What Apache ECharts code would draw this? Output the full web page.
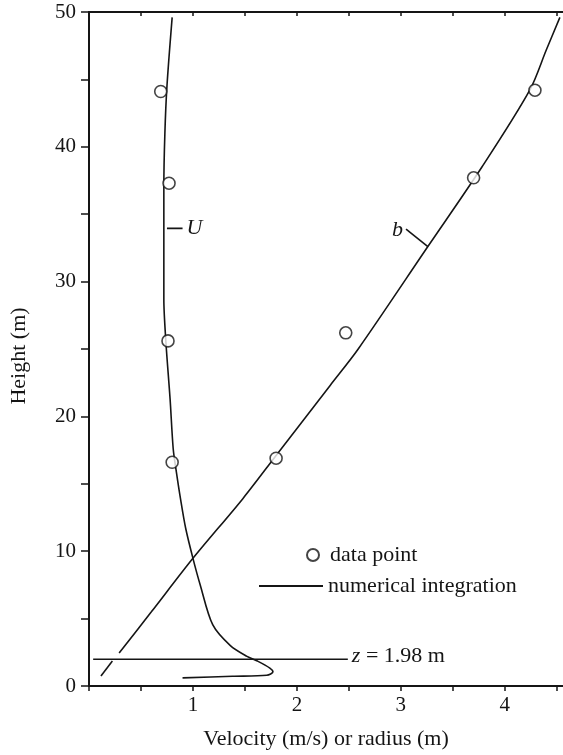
<!DOCTYPE html>
<html>
<head>
<meta charset="utf-8">
<script src="https://cdn.jsdelivr.net/npm/echarts@6/dist/echarts.min.js"></script>
<style>
  html, body { margin: 0; padding: 0; background: #fff; }
  #chart { width: 563px; height: 755px; }
</style>
</head>
<body>
<div id="chart"></div>
<script>
// Tick positions and labelled ticks
const xTicks = [0, 0.5, 1, 1.5, 2, 2.5, 3, 3.5, 4, 4.5];
const xTickLabels = [1, 2, 3, 4];
const yTicks = [0, 5, 10, 15, 20, 25, 30, 35, 40, 45, 50];
const yTickLabels = [0, 10, 20, 30, 40, 50];

// Measured data points: velocity U and radius b against height
const uPointHeight = [44.1, 37.3, 25.6, 16.6];
const uPointVelocity = [0.69, 0.77, 0.76, 0.80];
const bPointHeight = [44.2, 37.7, 26.2, 16.9];
const bPointRadius = [4.29, 3.70, 2.47, 1.80];

// Numerical integration: velocity U
const uCurveHeight = [49.6, 44.5, 41.0, 37.0, 33.9, 28.7, 25.5, 21.3, 17.6, 15.9, 13.9, 11.7, 9.47, 7.5, 4.55, 3.0, 2.2, 1.85, 1.33, 1.05, 0.8, 0.72, 0.6];
const uCurveVelocity = [0.80, 0.75, 0.73, 0.72, 0.72, 0.72, 0.74, 0.78, 0.81, 0.84, 0.88, 0.93, 1.00, 1.07, 1.19, 1.36, 1.52, 1.62, 1.74, 1.77, 1.71, 1.38, 0.90];

// Numerical integration: radius b (short piece below the z line, then the rest)
const bLowHeight = [0.74, 1.85];
const bLowRadius = [0.115, 0.225];
const bCurveHeight = [2.45, 5.5, 9.47, 13.9, 17.1, 22.3, 25.0, 32.6, 38.5, 44.2, 47.2, 49.6];
const bCurveRadius = [0.29, 0.60, 1.00, 1.48, 1.80, 2.32, 2.59, 3.26, 3.78, 4.24, 4.40, 4.53];

// Reference level z = 1.98 m
const zHeight = 1.98;
const zSpan = [0.04, 2.49];

// Curve labels with their leader strokes
const uLeaderX = [0.75, 0.90];
const uLeaderY = [33.95, 33.95];
const bLeaderX = [3.26, 3.05];
const bLeaderY = [32.6, 33.9];

const zip = (xs, ys) => xs.map((x, i) => [x, ys[i]]);

const ink = '#151515';
const serif = 'Liberation Serif';
const lineW = 1.6;

const curveStyle = { color: ink, width: lineW };

const chart = echarts.init(document.getElementById('chart'), null, { renderer: 'canvas' });

chart.setOption({
  backgroundColor: '#fff',
  animation: false,
  color: [ink],
  textStyle: { fontFamily: serif, color: ink },
  grid: { left: 89, right: 0, top: 12, bottom: 67 },
  legend: [
    {
      data: ['data point'],
      left: 306, top: 544, padding: 0,
      itemWidth: 24, itemHeight: 12,
      selectedMode: false,
      textStyle: { fontFamily: serif, fontSize: 22, color: ink }
    },
    {
      data: [{ name: 'numerical integration', icon: 'rect' }],
      left: 259, top: 575, padding: 0,
      itemWidth: 64, itemHeight: 2,
      itemStyle: { color: ink, borderWidth: 0 },
      selectedMode: false,
      textStyle: { fontFamily: serif, fontSize: 22, color: ink }
    }
  ],
  xAxis: [
    {
      type: 'value', position: 'bottom', min: 0, max: 4.56,
      name: 'Velocity (m/s) or radius (m)',
      nameLocation: 'middle', nameGap: 42,
      nameTextStyle: { fontFamily: serif, fontSize: 22, color: ink },
      axisLine: { onZero: false, lineStyle: { color: ink, width: 2 } },
      axisTick: { show: true, customValues: xTicks, length: 5, lineStyle: { color: ink, width: 1.5 } },
      axisLabel: { customValues: xTickLabels, fontFamily: serif, fontSize: 21, color: ink, margin: 9 },
      splitLine: { show: false }
    },
    {
      type: 'value', position: 'top', min: 0, max: 4.56,
      axisLine: { onZero: false, lineStyle: { color: ink, width: 2 } },
      axisTick: { show: true, inside: true, customValues: xTicks, length: 4, lineStyle: { color: ink, width: 1.5 } },
      axisLabel: { show: false },
      splitLine: { show: false }
    }
  ],
  yAxis: [
    {
      type: 'value', position: 'left', min: 0, max: 50,
      name: 'Height (m)',
      nameLocation: 'middle', nameGap: 59,
      nameTextStyle: { fontFamily: serif, fontSize: 22, color: ink, padding: [0, 14, 0, 0] },
      axisLine: { show: true, onZero: false, lineStyle: { color: ink, width: 2 } },
      axisTick: { show: true, customValues: yTicks, length: 8, lineStyle: { color: ink, width: 1.5 } },
      axisLabel: { customValues: yTickLabels, fontFamily: serif, fontSize: 21, color: ink, margin: 13 },
      splitLine: { show: false }
    },
    {
      type: 'value', position: 'right', min: 0, max: 50,
      axisLine: { show: false },
      axisTick: { show: true, inside: true, customValues: yTicks, length: 5, lineStyle: { color: ink, width: 1.5 } },
      axisLabel: { show: false },
      splitLine: { show: false }
    }
  ],
  series: [
    {
      name: 'numerical integration', type: 'line',
      data: zip(uCurveVelocity, uCurveHeight),
      symbol: 'none', smooth: 0.3, lineStyle: curveStyle, itemStyle: { color: ink }, z: 2
    },
    {
      name: 'numerical integration', type: 'line',
      data: zip(bLowRadius, bLowHeight),
      symbol: 'none', lineStyle: curveStyle, itemStyle: { color: ink }, z: 2
    },
    {
      name: 'numerical integration', type: 'line',
      data: zip(bCurveRadius, bCurveHeight),
      symbol: 'none', smooth: 0.3, lineStyle: curveStyle, itemStyle: { color: ink }, z: 2
    },
    {
      name: 'z level', type: 'line',
      data: zip(zSpan, [zHeight, zHeight]),
      symbol: 'none', lineStyle: curveStyle, z: 2,
      endLabel: {
        show: true, distance: 4, offset: [0, -3],
        formatter: () => '{i|z} = ' + zHeight.toFixed(2) + ' m',
        fontFamily: serif, fontSize: 22, color: ink,
        rich: { i: { fontFamily: serif, fontSize: 22, fontStyle: 'italic', color: ink } }
      }
    },
    {
      name: 'U leader', type: 'line',
      data: zip(uLeaderX, uLeaderY),
      symbol: 'none', lineStyle: curveStyle, z: 2,
      endLabel: {
        show: true, distance: 4, formatter: 'U',
        fontFamily: serif, fontSize: 22, fontStyle: 'italic', color: ink
      }
    },
    {
      name: 'b leader', type: 'line',
      data: zip(bLeaderX, bLeaderY),
      symbol: 'none', lineStyle: curveStyle, z: 2,
      endLabel: {
        show: true, distance: 3, formatter: 'b', align: 'right', offset: [-6, 1],
        fontFamily: serif, fontSize: 22, fontStyle: 'italic', color: ink
      }
    },
    {
      name: 'data point', type: 'scatter',
      data: zip(uPointVelocity, uPointHeight),
      symbol: 'circle', symbolSize: 12,
      itemStyle: { color: '#fff', borderColor: ink, borderWidth: 1.6 },
      z: 5
    },
    {
      name: 'data point', type: 'scatter',
      data: zip(bPointRadius, bPointHeight),
      symbol: 'circle', symbolSize: 12,
      itemStyle: { color: '#fff', borderColor: ink, borderWidth: 1.6 },
      z: 5
    }
  ]
});
</script>
</body>
</html>
